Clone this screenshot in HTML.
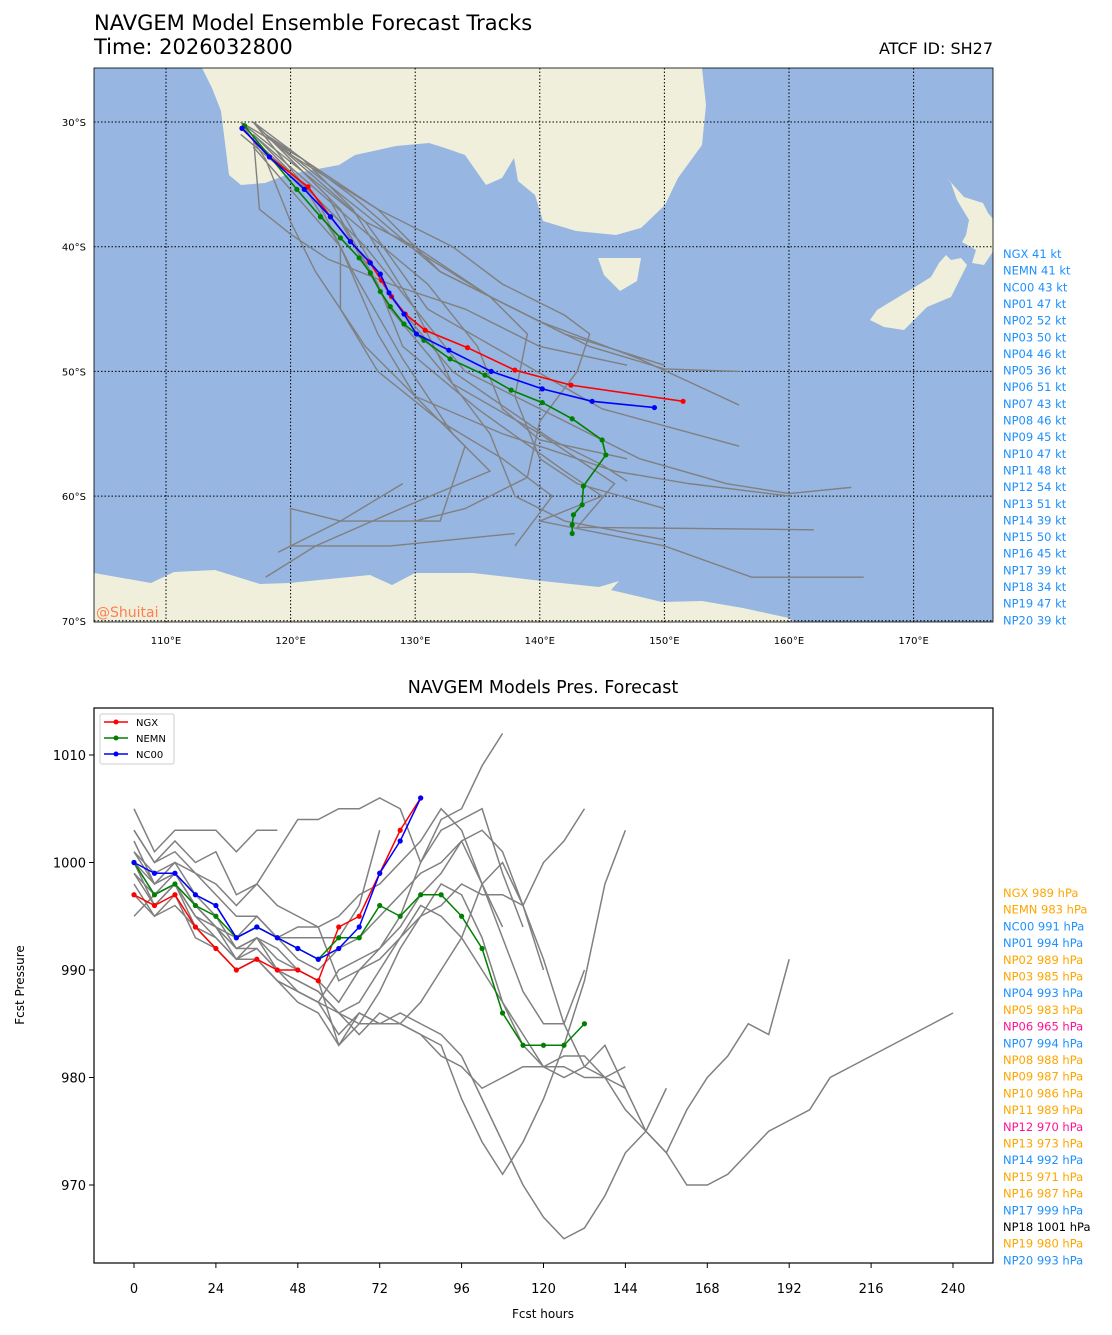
<!DOCTYPE html>
<html><head><meta charset="utf-8"><style>
body{margin:0;background:#fff;}
svg{display:block;font-family:"DejaVu Sans","Liberation Sans",sans-serif;}
</style></head><body>
<svg id="root" width="1112" height="1335" viewBox="0 0 1112 1335" xmlns="http://www.w3.org/2000/svg">
<rect width="1112" height="1335" fill="#fff"/>
<text x="94" y="30" font-size="21">NAVGEM Model Ensemble Forecast Tracks</text>
<text x="94" y="54" font-size="21">Time: 2026032800</text>
<text x="993" y="54" font-size="16" text-anchor="end">ATCF ID: SH27</text>
<defs><clipPath id="mapclip"><rect x="94" y="68" width="899" height="554"/></clipPath></defs>
<g id="map">
<rect x="94" y="68" width="899" height="554" fill="#97b6e1"/>
<g clip-path="url(#mapclip)" fill="#efefdb">
<polygon points="202,68 212,88 221,111 229,175 241,185 265,183 286,175 323,168 339,165 355,155 396,146 429,143 445,148 465,155 486,185 502,178 514,158 518,181 535,195 543,221 576,231 616,235 641,228 665,205 678,178 702,145 706,105 702,68"/>
<polygon points="598,258 641,258 637,281 620,291 604,275"/>
<polygon points="947,178 964,197 983,203 988,213 994,220 994,250 984,265 972,263 976,250 962,242 966,235 969,220 957,200 951,183"/>
<polygon points="946,255 951,260 961,258 967,265 951,297 927,307 904,330 884,327 870,320 877,310 910,290 931,277 939,263"/>
<polygon points="94,573 151,583 174,572 215,570 260,584 289,583 370,575 392,585 415,573 473,573 542,581 599,587 619,581 611,590 662,602 702,601 743,608 789,618 794,622 94,622"/>
</g>
<g id="grid" stroke="#000" stroke-width="1" stroke-dasharray="1.5,2"></g>
<g id="gray-tracks" clip-path="url(#mapclip)" fill="none" stroke="#808080" stroke-width="1.4"></g>
<g id="main-tracks" clip-path="url(#mapclip)"></g>
<rect x="94" y="68" width="899" height="554" fill="none" stroke="#000" stroke-width="0.8"/>
<text x="96" y="617" font-size="14" fill="#ff7f50">@Shuitai</text>
<g id="maplabels" font-size="10"></g>
<g id="ktlist" font-size="11.5"></g>
</g>
<text x="543" y="693" font-size="17.5" text-anchor="middle">NAVGEM Models Pres. Forecast</text>
<g id="pchart">
<rect x="94" y="708" width="899" height="555" fill="none" stroke="#000" stroke-width="1.2"/>
<g id="pgray" fill="none" stroke="#808080" stroke-width="1.5"></g>
<g id="pmain"></g>
<g id="paxes" font-size="13"></g>
<text x="543" y="1318" font-size="12" text-anchor="middle">Fcst hours</text>
<text transform="translate(24,985) rotate(-90)" font-size="12" text-anchor="middle">Fcst Pressure</text>
<g>
<rect x="100" y="714" width="74" height="50" fill="#fff" stroke="#ccc" rx="2"/>
<line x1="104" y1="722" x2="128" y2="722" stroke="#f00" stroke-width="1.5"/><circle cx="116" cy="722" r="2.5" fill="#f00"/>
<text x="136" y="726" font-size="10">NGX</text>
<line x1="104" y1="738" x2="128" y2="738" stroke="#008000" stroke-width="1.5"/><circle cx="116" cy="738" r="2.5" fill="#008000"/>
<text x="136" y="742" font-size="10">NEMN</text>
<line x1="104" y1="754" x2="128" y2="754" stroke="#00f" stroke-width="1.5"/><circle cx="116" cy="754" r="2.5" fill="#00f"/>
<text x="136" y="758" font-size="10">NC00</text>
</g>
<g id="plist" font-size="11.5"></g>
</g>
</svg>
<script>
// ---- map data (lon, lat in degrees south) ----
const ngxLon=[116.1,118.3,121.4,123.2,124.8,126.3,127.3,128.1,129.2,130.8,134.2,138.0,142.5,151.5];
const ngxLat=[30.5,32.8,35.2,37.6,39.6,41.2,42.7,44.0,45.4,46.7,48.1,49.9,51.1,52.4];
const nc00Lon=[116.1,118.3,121.1,123.2,124.8,126.4,127.2,127.9,129.1,130.1,132.7,136.1,140.2,144.2,149.2];
const nc00Lat=[30.5,32.8,35.4,37.6,39.6,41.3,42.2,43.7,45.4,47.0,48.3,50.0,51.4,52.4,52.9];
const nemnLon=[116.3,120.5,122.4,124.0,125.5,126.4,127.2,128.0,129.1,130.7,132.8,135.6,137.7,140.2,142.6,145.0,145.3,143.5,143.4,142.7,142.6,142.6];
const nemnLat=[30.3,35.4,37.6,39.3,40.9,42.1,43.6,44.8,46.2,47.5,49.0,50.3,51.5,52.5,53.8,55.5,56.7,59.2,60.7,61.5,62.3,63.0];
const grayTracks=[
[[116,30.5],[121,35],[126,40],[130,45],[134,50],[140,53],[148,57],[155,59],[160,59.8],[165,59.3]],
[[117,30],[123,36],[127,43],[129,48],[135,53],[142,58],[145,60],[140,62],[150,64],[157,66.5],[166,66.5]],
[[117,31],[124,38],[128,45],[133,51],[140,55],[146,59],[143,62.5],[162,62.7]],
[[118,31],[126,38],[131,45],[138,49],[145,53],[156,56]],
[[119,32],[127,37],[132,42],[138,45],[144,48],[150,49.8],[156,50]],
[[118,31],[128,39],[136,44],[142,47],[150,49.5]],
[[117,30],[125,36],[132,42],[140,46],[148,49],[156,52.7]],
[[117,30],[121,35],[124,40],[124,45],[127,50],[132,54],[137,57],[141,60],[138,64]],
[[116,30],[118,33],[120,38],[122,42],[124,45],[126,48],[130,52],[134,56],[132,62],[124,62],[120,61],[120,64],[128,64],[138,63]],
[[117,31],[117.5,37],[120,39],[123,41],[128,43],[134,45],[140,48],[147,49.5]],
[[116,30],[121,34],[126,38],[130,40],[136,44],[139,47],[138,52],[140,57],[143,59],[150,61]],
[[116,31],[122,36],[125,42],[129,49],[133,55],[136,58],[130,60.5],[122,64],[118,66.5]],
[[117,32],[124,40],[127,47],[130,52],[137,55],[146,58],[152,59],[160,60]],
[[118,31],[127,37],[133,40],[137,43],[142,45.5],[144,47],[143,50],[140,54],[139,58.5],[134,61],[130,62]],
[[117,30],[124,37],[128,44],[133,50],[141,55.5],[145,57.5],[147,58.8]],
[[116,30],[121,33],[125,37],[130,45],[133,51],[136,55],[138,60],[142,62],[150,63.5]],
[[119,64.5],[124,62],[129,59]],
[[117,31],[125,38],[131,43],[135,48],[137,53],[140,55.5],[147,57]]
];
const lonTicks=[110,120,130,140,150,160,170];
const latTicks=[30,40,50,60,70];
const ktNames=["NGX","NEMN","NC00","NP01","NP02","NP03","NP04","NP05","NP06","NP07","NP08","NP09","NP10","NP11","NP12","NP13","NP14","NP15","NP16","NP17","NP18","NP19","NP20"];
const ktVals=[41,41,43,47,52,50,46,36,51,43,46,45,47,48,54,51,39,50,45,39,34,47,39];
// ---- pressure data (6-hourly from 0h) ----
const ngxP=[997,996,997,994,992,990,991,990,990,989,994,995,999,1003,1006];
const nemnP=[1000,997,998,996,995,993,994,993,992,991,993,993,996,995,997,997,995,992,986,983,983,983,985];
const nc00P=[1000,999,999,997,996,993,994,993,992,991,992,994,999,1002,1006];
const grayP=[
[1005,1001,1003,1003,1003,1001,1003,1003],
[1003,1000,1002,1000,1001,997,998,1001,1004,1004,1005,1005,1006,1005,1000,1003,1004,1005,999,994],
[1001,999,1000,999,997,995,995,993,994,994,989,990,992,995,1000,1004,1005,1009,1012],
[999,997,999,996,994,992,993,990,989,988,986,987,990,993,995,996,998,997,997,996,1000,1002,1005],
[998,995,997,993,992,990,991,989,988,987,984,986,985,985,984,983,978,974,971,974,978,983,989,998,1003],
[1000,997,998,995,993,991,992,990,988,987,986,985,985,986,985,984,982,978,974,970,967,965,966,969,973,975,979],
[1000,996,998,995,994,991,991,989,987,986,983,985,988,992,995,998,997,993,987,983,981,981,980,980,977,975,973,970,970,971,973,975,976,977,980,981,982,983,984,985,986],
[997,995,996,994,993,991,993,992,990,989,987,990,991,993,996,995,993,990,987,984,981,980,981,983,979,975,973,977,980,982,985,984,991],
[1001,998,1000,997,996,993,995,993,991,990,992,993,995,997,999,1000,1002,998,993,988,985,985,990],
[999,996,998,994,992,990,991,989,988,987,990,991,992,994,997,999,1002,1003,1001,996,991,985,981,980,981],
[1002,998,999,997,995,992,993,991,990,989,983,986,985,985,984,982,981,979,980,981,981,982,982,980,979],
[995,997,998,996,994,993,994,993,993,993,993,996,1003],
[1003,1000,1001,999,998,996,998,996,995,994,995,997,998,1000,1002,1005,1003,998,994],
[1000,998,999,996,994,992,992,990,989,988,986,984,986,985,987,990,993,998,1000,996,990]
];
const hourTicks=[0,24,48,72,96,120,144,168,192,216,240];
const presTicks=[970,980,990,1000,1010];
const pNames=ktNames;
const pVals=[989,983,991,994,989,985,993,983,965,994,988,987,986,989,970,973,992,971,987,999,1001,980,993];
const pColors=["#ffa500","#ffa500","#1e90ff","#1e90ff","#ffa500","#ffa500","#1e90ff","#ffa500","#ff1493","#1e90ff","#ffa500","#ffa500","#ffa500","#ffa500","#ff1493","#ffa500","#1e90ff","#ffa500","#ffa500","#1e90ff","#000","#ffa500","#1e90ff"];

const NS="http://www.w3.org/2000/svg";
function mk(tag,attrs,parent){const e=document.createElementNS(NS,tag);for(const k in attrs)e.setAttribute(k,attrs[k]);parent.appendChild(e);return e;}
const mx=lon=>166+(lon-110)*12.46;
const my=lat=>122+(lat-30)*12.47;
const px=h=>134+h*3.4125;
const py=p=>755+(1010-p)*10.75;

const grid=document.getElementById('grid');
lonTicks.forEach(l=>{const e=mk('line',{x1:mx(l),x2:mx(l),y1:68,y2:622},grid);

});
latTicks.forEach(l=>{const e=mk('line',{x1:94,x2:993,y1:my(l),y2:my(l)},grid);

});
const ml=document.getElementById('maplabels');
lonTicks.forEach(l=>{const t=mk('text',{x:mx(l),y:644,'text-anchor':'middle'},ml);t.textContent=l+'°E';

});
latTicks.forEach(l=>{const t=mk('text',{x:86,y:my(l)+4,'text-anchor':'end'},ml);t.textContent=l+'°S';

});

const gt=document.getElementById('gray-tracks');
grayTracks.forEach((tr,i)=>{const p=mk('polyline',{points:tr.map(q=>mx(q[0])+','+my(q[1])).join(' ')},gt);

});
const mt=document.getElementById('main-tracks');
function track(lons,lats,color,name){
 const p=mk('polyline',{points:lons.map((l,i)=>mx(l)+','+my(lats[i])).join(' '),fill:'none',stroke:color,'stroke-width':1.6},mt);
 
 
 lons.forEach((l,i)=>{const c=mk('circle',{cx:mx(l),cy:my(lats[i]),r:2.6,fill:color},mt);
 
 });
}
track(nemnLon,nemnLat,'#008000','nemn');
track(ngxLon,ngxLat,'#f00','ngx');
track(nc00Lon,nc00Lat,'#00f','nc00');

const kl=document.getElementById('ktlist');
ktNames.forEach((n,i)=>{const t=mk('text',{x:1003,y:258+i*16.65,fill:'#1e90ff'},kl);t.textContent=n+' '+ktVals[i]+' kt';

});

const pg=document.getElementById('pgray');
grayP.forEach((s,i)=>{const p=mk('polyline',{points:s.map((v,j)=>px(j*6)+','+py(v)).join(' ')},pg);

});
const pm=document.getElementById('pmain');
function pser(s,color,name){
 const p=mk('polyline',{points:s.map((v,j)=>px(j*6)+','+py(v)).join(' '),fill:'none',stroke:color,'stroke-width':1.5},pm);
 
 
 s.forEach((v,j)=>{const c=mk('circle',{cx:px(j*6),cy:py(v),r:2.6,fill:color},pm);
 
 });
}
pser(ngxP,'#f00','ngx');
pser(nemnP,'#008000','nemn');
pser(nc00P,'#00f','nc00');
const pa=document.getElementById('paxes');
hourTicks.forEach(h=>{mk('line',{x1:px(h),x2:px(h),y1:1263,y2:1268,stroke:'#000'},pa);
const t=mk('text',{x:px(h),y:1293,'text-anchor':'middle'},pa);t.textContent=h;

});
presTicks.forEach(v=>{mk('line',{x1:89,x2:94,y1:py(v),y2:py(v),stroke:'#000'},pa);
const t=mk('text',{x:86,y:py(v)+5,'text-anchor':'end'},pa);t.textContent=v;

});
const pl=document.getElementById('plist');
pNames.forEach((n,i)=>{const t=mk('text',{x:1003,y:897+i*16.7,fill:pColors[i]},pl);t.textContent=n+' '+pVals[i]+' hPa';

});
</script>
</body></html>
